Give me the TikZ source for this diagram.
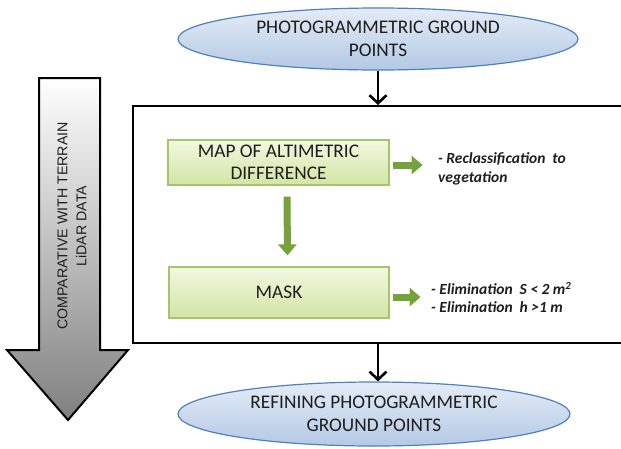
\documentclass[tikz,border=0pt]{standalone}
\usepackage{fontspec}
\setmainfont{Carlito}
\newfontfamily\arialf{Liberation Sans}
\usetikzlibrary{arrows.meta,shapes.geometric}
\definecolor{ellborder}{HTML}{4F81BD}
\definecolor{elltop}{HTML}{E4ECF7}
\definecolor{ellbot}{HTML}{B4C9E4}
\definecolor{gbtop}{HTML}{F2F8E0}
\definecolor{gbbot}{HTML}{D2E5A4}
\definecolor{gbborder}{HTML}{A6C46A}
\definecolor{garrow}{HTML}{76A23C}
\definecolor{txt}{HTML}{1E1E1E}
\tikzset{
  ellnode/.style={ellipse, draw=ellborder, line width=1.2pt, top color=elltop, bottom color=ellbot,
    align=center, inner sep=0pt, text=txt, font=\fontsize{19.3}{23}\selectfont},
  greenbox/.style={rectangle, draw=gbborder, line width=1.2pt, top color=gbtop, bottom color=gbbot,
    align=center, inner sep=0pt, text=txt, font=\fontsize{19.3}{22}\selectfont},
  sidetext/.style={align=left, inner sep=0pt, anchor=west, text=txt,
    font=\fontsize{15.5}{18.5}\selectfont\bfseries\itshape},
  blackarrow/.style={draw=black, line width=2.6pt, -{Straight Barb[length=8pt,width=17pt,line width=2.6pt]}},
  greenarrow/.style={draw=garrow, line width=7pt, -{Triangle[length=11pt,width=18pt]}},
}
\begin{document}
\begin{tikzpicture}[x=1pt,y=-1pt]
\useasboundingbox (0,0) rectangle (621,448);
\fill[white] (0,0) rectangle (621,448);

% frame
\node (frame) [draw=black, line width=2pt, fill=white, minimum width=492pt, minimum height=237pt, inner sep=0pt] at (379,224.5) {};

% ellipses
\node (top) [ellnode, minimum width=400pt, minimum height=62pt] at (378,39)
  {PHOTOGRAMMETRIC GROUND\\POINTS};
\node (bot) [ellnode, minimum width=392pt, minimum height=64pt] at (374,414)
  {REFINING PHOTOGRAMMETRIC\\GROUND POINTS};

% gray arrow
\path[draw=black, line width=2pt, top color=white, bottom color=black!50]
  (39,78) -- (100,78) -- (100,350) -- (128,350) -- (68,420) -- (7,350) -- (39,350) -- cycle;
\node (side) [rotate=90, align=center, text=txt, font=\arialf\fontsize{14.2}{19}\selectfont] at (72,226)
  {COMPARATIVE WITH TERRAIN\\LiDAR DATA};

% green boxes
\node (b1) [greenbox, minimum width=221pt, minimum height=45pt] at (278.5,162.5)
  {MAP OF ALTIMETRIC\\DIFFERENCE};
\node (b2) [greenbox, minimum width=220pt, minimum height=51pt] at (279,292.5)
  {MASK};

% side texts
\node (t1) [sidetext] at (438,169) {- Reclassification~ to\\vegetation};
\node (t2) [sidetext] at (431,297.5) {- Elimination~ \textit{S} < 2 m\textsuperscript{2}\\- Elimination~ h >1 m};

% connectors
\draw[blackarrow] (top.south) -- (top.south |- frame.north);
\draw[blackarrow] (top.south |- frame.south) -- (bot.north -| top.south);
\draw[greenarrow] ([xshift=3pt,yshift=-2.5pt]b1.east) -- ([xshift=33pt,yshift=-2.5pt]b1.east);
\draw[greenarrow] ([xshift=3pt,yshift=-4.5pt]b2.east) -- ([xshift=31pt,yshift=-4.5pt]b2.east);
\draw[greenarrow] ([xshift=8.5pt,yshift=-11pt]b1.south) -- ([xshift=8.5pt,yshift=11pt]b2.north);
\end{tikzpicture}
\end{document}
